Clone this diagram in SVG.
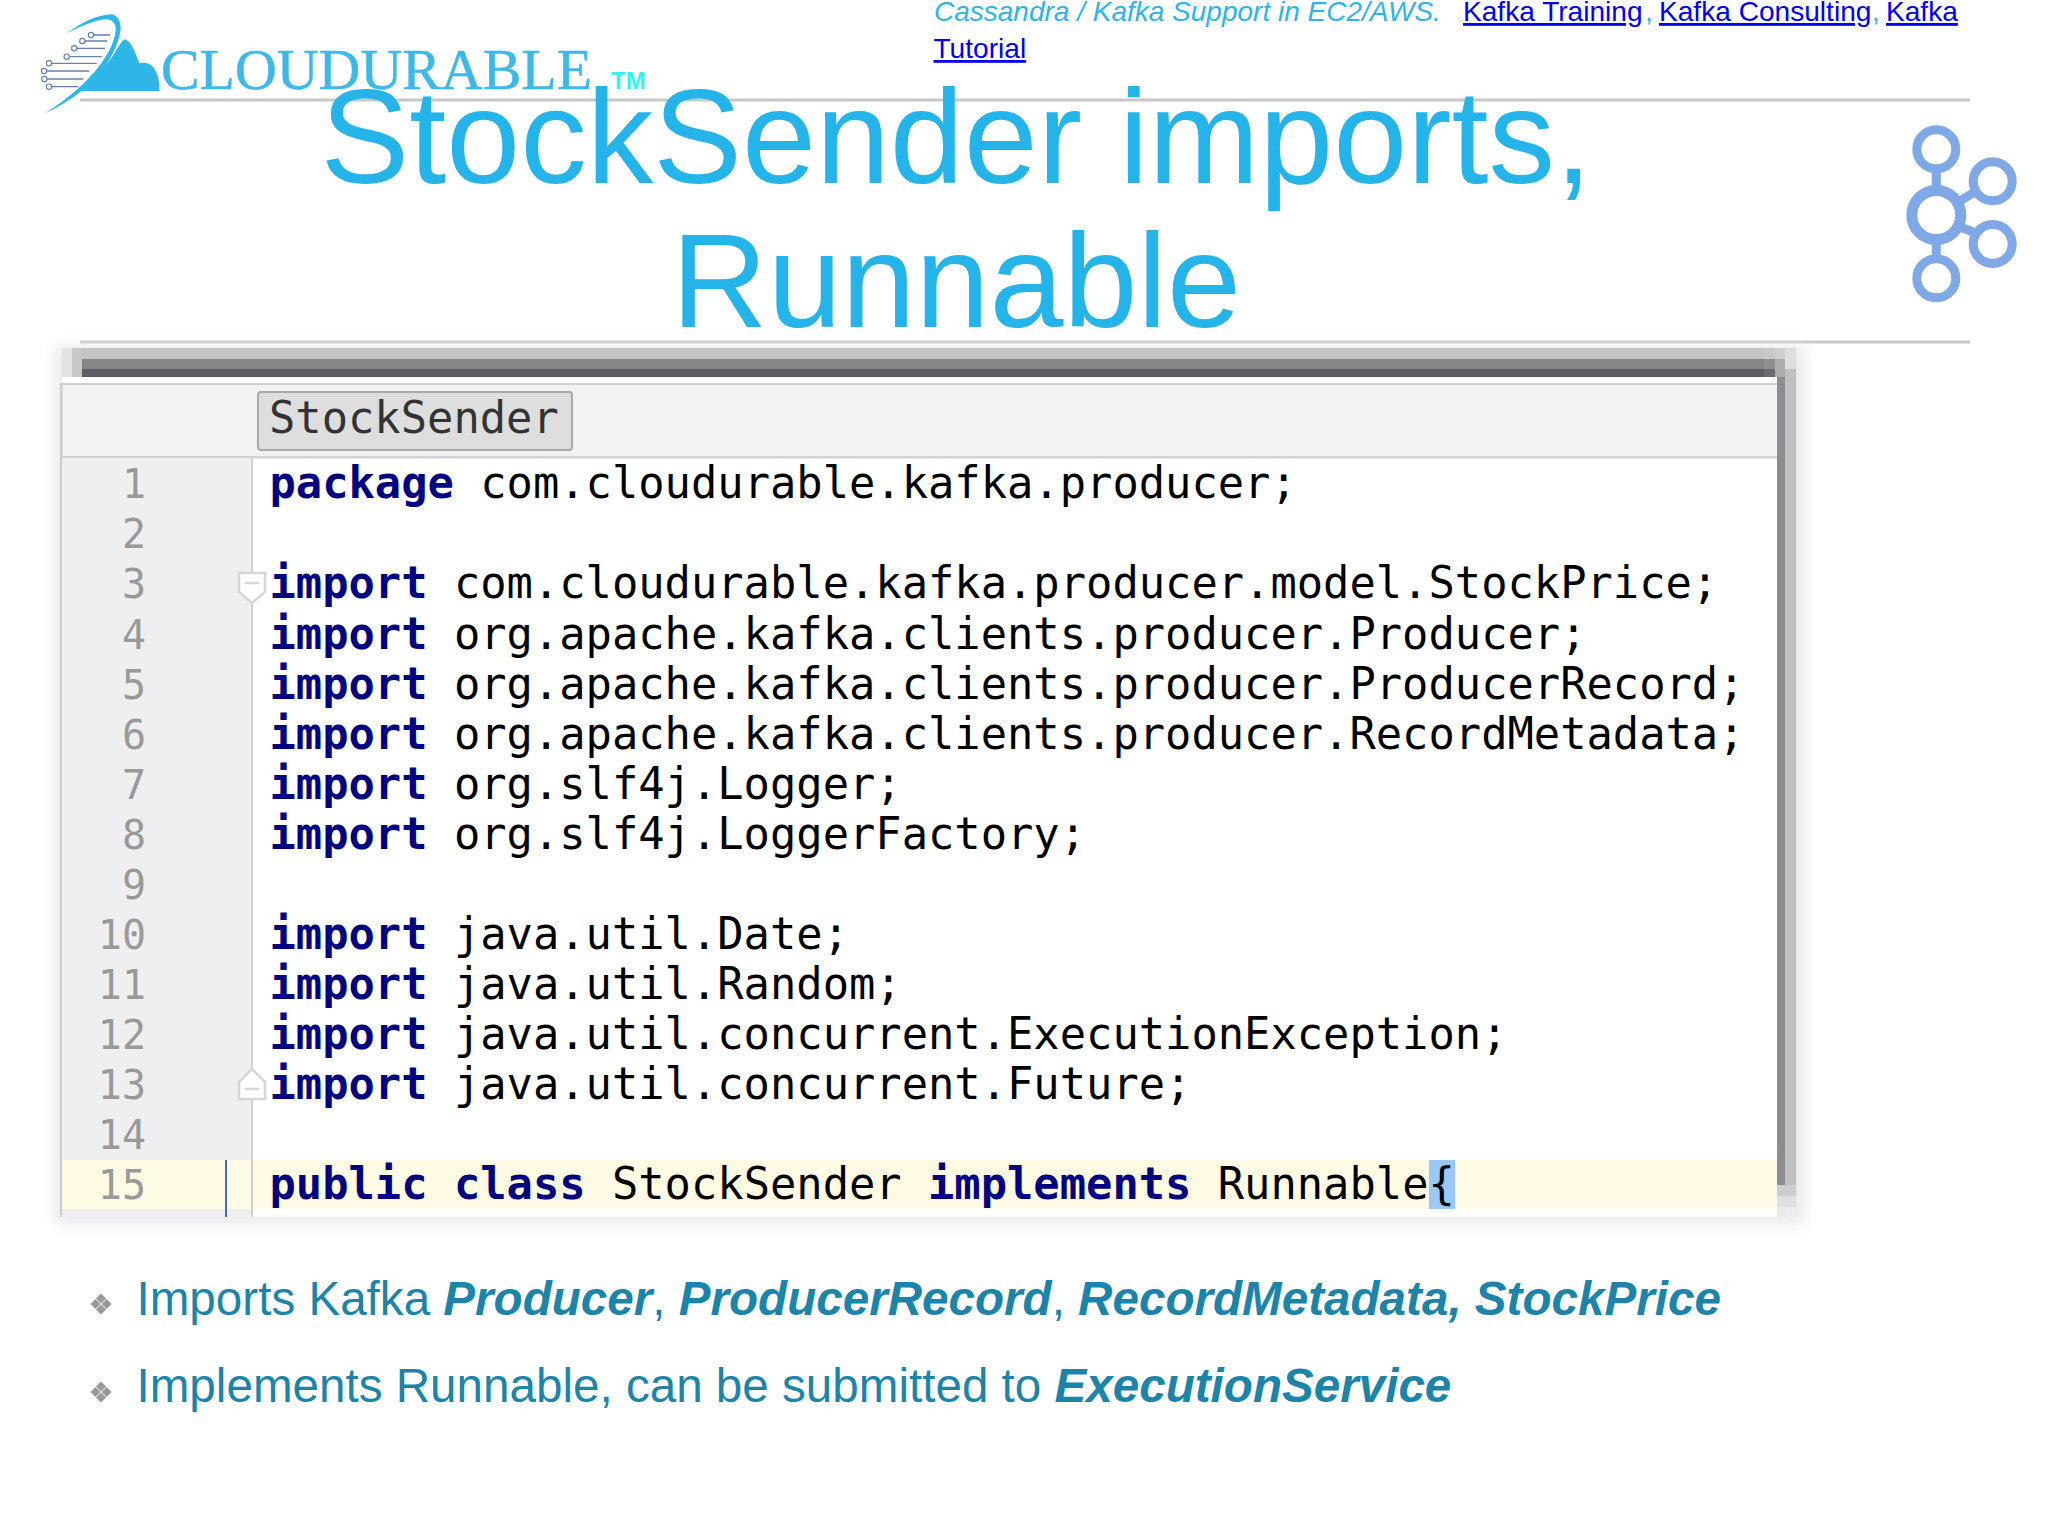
<svg xmlns="http://www.w3.org/2000/svg" width="2048" height="1536" viewBox="0 0 2048 1536">
<style>
.rule{stroke:#c8c7ca;stroke-width:3;fill:none}
.hdr{font-family:"Liberation Sans",Arial,sans-serif;font-size:28px;fill:#2fb4e6}
.lnk{font-family:"Liberation Sans",Arial,sans-serif;font-size:28.1px;fill:#0000ee;text-decoration:underline}
.title{font-family:"Liberation Sans",Arial,sans-serif;font-size:133px;fill:#24b4e9;text-anchor:middle}
.code{font-family:"DejaVu Sans Mono",monospace;font-size:43.75px;fill:#000;white-space:pre}
.kw{font-weight:bold;fill:#000080}
.num{font-family:"DejaVu Sans Mono",monospace;font-size:40px;fill:#999;text-anchor:end}
.body{font-family:"Liberation Sans",Arial,sans-serif;font-size:47.6px;fill:#1c84a9}
.em{font-weight:bold;font-style:italic}
.fold{fill:#fff;stroke:#d6d6d6;stroke-width:2.5}
.foldm{stroke:#d6d6d6;stroke-width:2.5}
.ka{fill:none;stroke:#7fa9e6}
.wire{stroke:#6680b0;stroke-width:4;fill:none}
.pad{stroke:#6680b0;stroke-width:3.5;fill:#fff}
</style>
<defs>
<filter id="soft" x="-5%" y="-5%" width="110%" height="110%"><feGaussianBlur stdDeviation="7"/></filter>
<g id="diamonds" fill="#999">
<path d="M0 -10.500L5 -5.500L0 -.5L-5 -5.500Z"/><path d="M0 .5L5 5.500L0 10.500L-5 5.500Z"/>
<path d="M-5.500 -5L-.5 0L-5.500 5L-10.500 0Z"/><path d="M5.500 -5L10.500 0L5.500 5L.5 0Z"/>
</g>
</defs>
<rect width="2048" height="1536" fill="#fff"/>

<g id="logo">
<g transform="translate(30,5) scale(.3333)">
<path class="wire" d="M183 90H240M157 108H232M133 130H225M110 155H215M57 175H200M42 198H178M43 222H160M57 245H145"/>
<circle class="pad" cx="183" cy="90" r="8"/><circle class="pad" cx="157" cy="108" r="8"/><circle class="pad" cx="133" cy="130" r="8"/><circle class="pad" cx="110" cy="155" r="8"/><circle class="pad" cx="57" cy="175" r="8"/><circle class="pad" cx="42" cy="198" r="8"/><circle class="pad" cx="43" cy="222" r="8"/><circle class="pad" cx="57" cy="245" r="8"/>
<path fill="#2fb6e9" d="M150 258C195 215 235 180 262 130C270 118 278 105 285 103C300 108 312 130 328 175C350 168 372 180 380 205C388 222 388 240 388 258Z"/>
<path fill="#2fb6e9" d="M110 85C160 48 205 30 245 28C262 30 272 48 272 72C268 115 240 170 205 210C160 262 100 300 45 325C100 290 150 250 190 205C225 165 255 115 257 75C258 55 248 42 225 43C190 47 150 65 110 85Z"/>
</g>
<text x="161" y="89" font-family="'Liberation Serif',serif" font-size="58" fill="#3db8ea" stroke="#3db8ea" stroke-width=".5" textLength="431" lengthAdjust="spacingAndGlyphs">CLOUDURABLE</text>
<text x="611" y="89" font-family="'Liberation Sans',sans-serif" font-weight="bold" font-size="24" fill="#2ff5f0">TM</text>
</g>

<g id="rules">
<line class="rule" x1="80" y1="100" x2="1970" y2="100"/>
<line class="rule" x1="80" y1="342" x2="1970" y2="342"/>
</g>

<g id="header">
<text class="hdr" x="934" y="21" font-style="italic">Cassandra / Kafka Support in EC2/AWS.</text>
<text class="lnk" x="1463" y="21">Kafka Training</text>
<text class="hdr" x="1645" y="21">,</text>
<text class="lnk" x="1659" y="21">Kafka Consulting</text>
<text class="hdr" x="1872" y="21">,</text>
<text class="lnk" x="1886" y="21">Kafka</text>
<text class="lnk" x="933.500" y="58">Tutorial</text>
</g>

<g id="title">
<text class="title" x="956.300" y="183">StockSender imports,</text>
<text class="title" x="956.300" y="327">Runnable</text>
</g>

<g id="kafka-icon">
<path class="ka" stroke-width="9" d="M1936.3 168V192M1936.3 238V260M1973 193L1955 204M1973 232L1955 225"/>
<circle class="ka" cx="1936.3" cy="215" r="24.5" stroke-width="11"/>
<circle class="ka" cx="1936.3" cy="149.3" r="19.5" stroke-width="9"/>
<circle class="ka" cx="1992.7" cy="181.3" r="19.5" stroke-width="9"/>
<circle class="ka" cx="1992.7" cy="244" r="19.5" stroke-width="9"/>
<circle class="ka" cx="1936.3" cy="278.3" r="19.5" stroke-width="9"/>
</g>

<g id="editor">
<g id="window-shadow">
<rect x="54" y="346" width="1752" height="878" fill="#ebebed" filter="url(#soft)"/>
<rect x="62" y="348" width="10" height="30" fill="#e2e2e3"/>
<rect x="72" y="348" width="10" height="30" fill="#c8c8c9"/>
<rect x="82" y="348" width="1682" height="11" fill="#c4c3c5"/>
<rect x="82" y="359" width="1682" height="10" fill="#868587"/>
<rect x="82" y="369" width="1682" height="8" fill="#5e5c60"/>
<rect x="1764" y="348" width="11" height="11" fill="#c8c8c9"/>
<rect x="1764" y="359" width="11" height="10" fill="#8f8e90"/>
<rect x="1764" y="369" width="13" height="8" fill="#6c6a6e"/>
<rect x="1775" y="348" width="10" height="11" fill="#cfcfd0"/>
<rect x="1775" y="359" width="10" height="18" fill="#adacae"/>
<rect x="1785" y="348" width="11" height="21" fill="#dededf"/>
<rect x="1785" y="369" width="11" height="816" fill="#c0bfc2"/>
<rect x="1777" y="377" width="8" height="808" fill="#8e8c90"/>
<rect x="1777" y="1185" width="19" height="11" fill="#cdccce"/>
<rect x="1777" y="1196" width="19" height="11" fill="#e0e0e2"/>
<rect x="1777" y="1207" width="10" height="10" fill="#eaeaec"/>
</g>
<rect x="62" y="377" width="1715" height="840" fill="#fff"/>
<rect x="62" y="383" width="1715" height="74" fill="#f2f1f3"/>
<rect x="62" y="383" width="1715" height="2" fill="#d0d0d2"/>
<rect x="62" y="456" width="1715" height="2.500" fill="#d2d2d4"/>
<rect x="60" y="383" width="2.500" height="834" fill="#cbcbcd"/>
<rect x="62" y="458" width="190" height="759" fill="#efeff1"/>
<rect x="62" y="1160" width="1715" height="49" fill="#fffae3"/>
<line x1="252" y1="458" x2="252" y2="1217" stroke="#d0d0d2" stroke-width="2"/>
<line x1="226" y1="1160" x2="226" y2="1217" stroke="#4a6ea9" stroke-width="2"/>
<rect x="1429" y="1160" width="26" height="49" fill="#99c9fb"/>

<g id="tab">
<rect x="258" y="392" width="314" height="58" rx="3" fill="#dedede" stroke="#a9a9a9" stroke-width="2"/>
<text class="code" x="269" y="433" style="fill:#333">StockSender</text>
</g>

<g id="fold-markers">
<path class="fold" d="M239 573H265V592L252 603L239 592Z"/><line class="foldm" x1="245" x2="259" y1="583" y2="583"/>
<path class="fold" d="M239 1099H265V1082L252 1069L239 1082Z"/><line class="foldm" x1="245" x2="259" y1="1089" y2="1089"/>
</g>

<g id="line-numbers">
<text class="num" x="146" y="498.300">1</text>
<text class="num" x="146" y="548.400">2</text>
<text class="num" x="146" y="598.400">3</text>
<text class="num" x="146" y="648.500">4</text>
<text class="num" x="146" y="698.600">5</text>
<text class="num" x="146" y="748.600">6</text>
<text class="num" x="146" y="798.700">7</text>
<text class="num" x="146" y="848.800">8</text>
<text class="num" x="146" y="898.900">9</text>
<text class="num" x="146" y="949">10</text>
<text class="num" x="146" y="999">11</text>
<text class="num" x="146" y="1049.100">12</text>
<text class="num" x="146" y="1099.200">13</text>
<text class="num" x="146" y="1149.200">14</text>
<text class="num" x="146" y="1199.300">15</text>
</g>

<g id="code">
<text class="code" x="269.500" y="498.300"><tspan class="kw">package</tspan> com.cloudurable.kafka.producer;</text>
<text class="code" x="269.500" y="598.400"><tspan class="kw">import</tspan> com.cloudurable.kafka.producer.model.StockPrice;</text>
<text class="code" x="269.500" y="648.500"><tspan class="kw">import</tspan> org.apache.kafka.clients.producer.Producer;</text>
<text class="code" x="269.500" y="698.600"><tspan class="kw">import</tspan> org.apache.kafka.clients.producer.ProducerRecord;</text>
<text class="code" x="269.500" y="748.600"><tspan class="kw">import</tspan> org.apache.kafka.clients.producer.RecordMetadata;</text>
<text class="code" x="269.500" y="798.700"><tspan class="kw">import</tspan> org.slf4j.Logger;</text>
<text class="code" x="269.500" y="848.800"><tspan class="kw">import</tspan> org.slf4j.LoggerFactory;</text>
<text class="code" x="269.500" y="949"><tspan class="kw">import</tspan> java.util.Date;</text>
<text class="code" x="269.500" y="999"><tspan class="kw">import</tspan> java.util.Random;</text>
<text class="code" x="269.500" y="1049.100"><tspan class="kw">import</tspan> java.util.concurrent.ExecutionException;</text>
<text class="code" x="269.500" y="1099.200"><tspan class="kw">import</tspan> java.util.concurrent.Future;</text>
<text class="code" x="269.500" y="1199.300"><tspan class="kw">public</tspan> <tspan class="kw">class</tspan> StockSender <tspan class="kw">implements</tspan> Runnable{</text>
</g>
</g>

<g id="bullets">
<use href="#diamonds" x="101" y="1304"/>
<use href="#diamonds" x="101" y="1392"/>
<text class="body" x="136.500" y="1315">Imports Kafka <tspan class="em">Producer</tspan>, <tspan class="em">ProducerRecord</tspan>, <tspan class="em">RecordMetadata, StockPrice</tspan></text>
<text class="body" x="136.500" y="1402">Implements Runnable, can be submitted to <tspan class="em">ExecutionService</tspan></text>
</g>
</svg>
